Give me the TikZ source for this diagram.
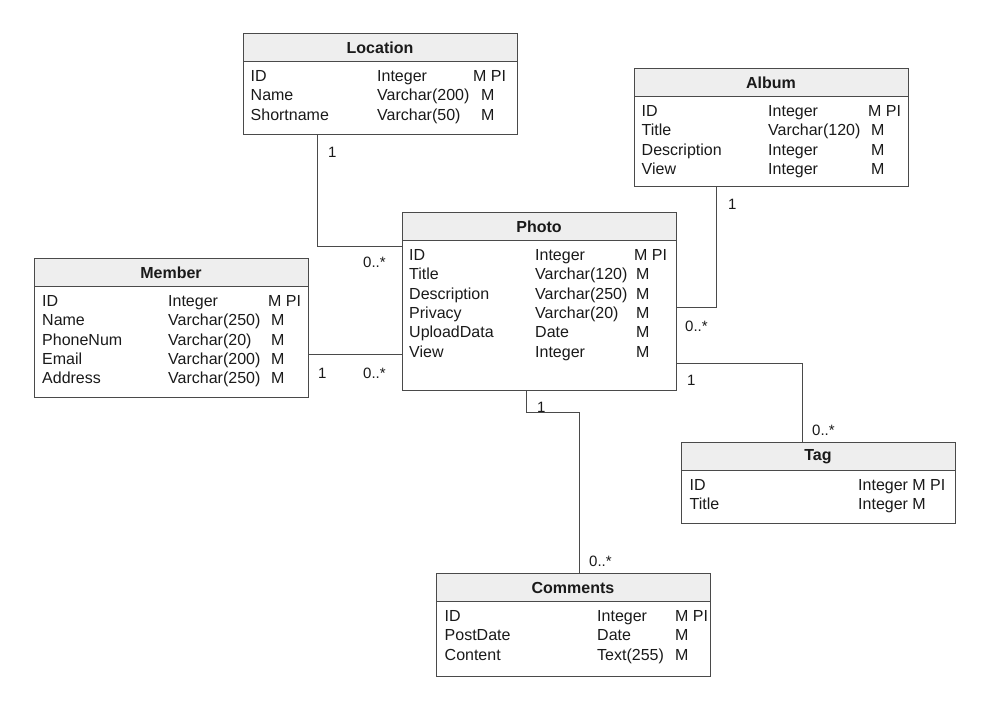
\documentclass[tikz,border=0pt]{standalone}
\usepackage{fontspec}
\setmainfont{Liberation Sans}
\usetikzlibrary{calc}
\definecolor{lineclr}{HTML}{4A4A4A}
\definecolor{hdrclr}{HTML}{EEEEEE}
\definecolor{txtclr}{HTML}{1A1A1A}
\tikzset{
  tblbox/.style={draw=lineclr, line width=1pt, inner sep=0pt, minimum width=274pt, anchor=north west},
  hdrtext/.style={inner sep=0pt, anchor=center, font=\fontsize{16}{19}\selectfont\bfseries, text=txtclr},
  cell/.style={inner sep=0pt, anchor=base west, font=\fontsize{16}{19}\selectfont, text=txtclr},
  lbl/.style={inner sep=0pt, anchor=base west, font=\fontsize{15}{18}\selectfont, text=txtclr},
  conn/.style={draw=lineclr, line width=1pt},
}
% name, x, y, height, title
\newcommand\erhead[5]{%
  \fill[hdrclr] (#2,#3) rectangle ({#2+274},{#3+28});
  \node[tblbox, minimum height=#4pt] (#1) at (#2,#3) {};
  \draw[lineclr, line width=1pt] (#2,{#3+28}) -- ({#2+274},{#3+28});
  \node[hdrtext] (#1-title) at ({#2+137},{#3+14.5}) {#5};
}
\begin{document}
\begin{tikzpicture}[x=1pt,y=-1pt]
\useasboundingbox (0,0) rectangle (982,720);
\fill[white] (0,0) rectangle (982,720);

% Location
\erhead{loc}{243}{33}{101}{Location}
\foreach \a/\b/\c/\d [count=\i] in {ID/Integer/M PI/230, Name/Varchar(200)/M/238, Shortname/Varchar(50)/M/238} {
  \node[cell] (loc-a\i) at (250.5,{81.5+19.3*(\i-1)}) {\a};
  \node[cell] (loc-b\i) at (377,{81.5+19.3*(\i-1)}) {\b};
  \node[cell] (loc-c\i) at ({243+\d},{81.5+19.3*(\i-1)}) {\c};
}

% Album
\erhead{album}{634}{68}{118}{Album}
\foreach \a/\b/\c/\d [count=\i] in {ID/Integer/M PI/234, Title/Varchar(120)/M/237, Description/Integer/M/237, View/Integer/M/237} {
  \node[cell] (album-a\i) at (641.5,{116.5+19.3*(\i-1)}) {\a};
  \node[cell] (album-b\i) at (768,{116.5+19.3*(\i-1)}) {\b};
  \node[cell] (album-c\i) at ({634+\d},{116.5+19.3*(\i-1)}) {\c};
}

% Photo
\erhead{photo}{402}{212}{178}{Photo}
\foreach \a/\b/\c/\d [count=\i] in {ID/Integer/M PI/232, Title/Varchar(120)/M/234, Description/Varchar(250)/M/234, Privacy/Varchar(20)/M/234, UploadData/Date/M/234, View/Integer/M/234} {
  \node[cell] (photo-a\i) at (409,{260.5+19.3*(\i-1)}) {\a};
  \node[cell] (photo-b\i) at (535,{260.5+19.3*(\i-1)}) {\b};
  \node[cell] (photo-c\i) at ({402+\d},{260.5+19.3*(\i-1)}) {\c};
}

% Member
\erhead{member}{34}{258}{139}{Member}
\foreach \a/\b/\c/\d [count=\i] in {ID/Integer/M PI/234, Name/Varchar(250)/M/237, PhoneNum/Varchar(20)/M/237, Email/Varchar(200)/M/237, Address/Varchar(250)/M/237} {
  \node[cell] (member-a\i) at (42,{306.5+19.3*(\i-1)}) {\a};
  \node[cell] (member-b\i) at (168,{306.5+19.3*(\i-1)}) {\b};
  \node[cell] (member-c\i) at ({34+\d},{306.5+19.3*(\i-1)}) {\c};
}

% Tag
\erhead{tag}{681}{442}{81}{Tag}
\foreach \a/\b [count=\i] in {ID/Integer M PI, Title/Integer M} {
  \node[cell] (tag-a\i) at (689.5,{490.5+19.3*(\i-1)}) {\a};
  \node[cell] (tag-b\i) at (858,{490.5+19.3*(\i-1)}) {\b};
}

% Comments
\erhead{comments}{436}{573}{103}{Comments}
\foreach \a/\b/\c [count=\i] in {ID/Integer/M PI, PostDate/Date/M, Content/Text(255)/M} {
  \node[cell] (comments-a\i) at (444.5,{621.5+19.3*(\i-1)}) {\a};
  \node[cell] (comments-b\i) at (597,{621.5+19.3*(\i-1)}) {\b};
  \node[cell] (comments-c\i) at (675,{621.5+19.3*(\i-1)}) {\c};
}

% connector bend points
\coordinate (c1) at (317,246);
\coordinate (c2) at (716,307);
\coordinate (c3) at (0,354);
\coordinate (c4) at (802,363);
\coordinate (c5) at (526,412);
\coordinate (c6) at (579,412);

\draw[conn] (loc.south -| c1) |- (photo.west |- c1);
\draw[conn] (album.south -| c2) |- (photo.east |- c2);
\draw[conn] (member.east |- c3) -- (photo.west |- c3);
\draw[conn] (photo.east |- c4) -| (tag.north -| c4);
\draw[conn] (photo.south -| c5) -- (c5) -- (c6) -- (comments.north -| c6);

% multiplicity labels
\node[lbl] (m1) at (328,157) {1};
\node[lbl] (m2) at (363,267) {0..*};
\node[lbl] (m3) at (728,209) {1};
\node[lbl] (m4) at (685,331) {0..*};
\node[lbl] (m5) at (318,378) {1};
\node[lbl] (m6) at (363,378) {0..*};
\node[lbl] (m7) at (687,385) {1};
\node[lbl] (m8) at (812,435) {0..*};
\node[lbl] (m9) at (537,412) {1};
\node[lbl] (m10) at (589,566) {0..*};
\end{tikzpicture}
\end{document}
